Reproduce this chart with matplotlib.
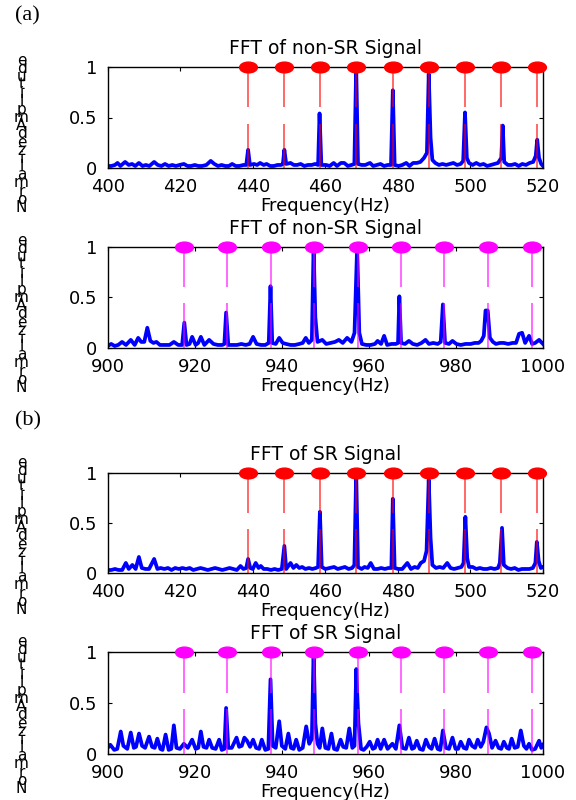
import numpy as np
import matplotlib
matplotlib.use("Agg")
import matplotlib.pyplot as plt
from matplotlib.path import Path
from matplotlib.transforms import Affine2D

# ---------------- data ----------------
titles = ["FFT of non-SR Signal", "FFT of non-SR Signal", "FFT of SR Signal", "FFT of SR Signal"]
panel_tags = ["(a)", "(b)"]
xlabel = "Frequency(Hz)"
ylabel = "Normalized Amplitude"
xticks_low = [400, 420, 440, 460, 480, 500, 520]
xticks_high = [900, 920, 940, 960, 980, 1000]
yticks = [0, 0.5, 1]
ytick_labels = ["0", "0.5", "1"]

harm_low = [438.6, 448.6, 458.5, 468.5, 478.6, 488.5, 498.5, 508.3, 518.3]
harm_high = [917.5, 927.3, 937.5, 947.3, 957.4, 967.4, 977.3, 987.4, 997.4]

# non-SR, 400-520 Hz
f_a1 = [400, 401, 402, 402.7, 403.5, 404.8, 405.8, 406.7, 407.6, 408.6, 409.6, 410.5, 411.5, 412.8,
        413.8, 414.8, 415.8, 416.8, 417.8, 418.8, 419.8, 421, 422, 423, 424, 425, 426, 427.2, 428.4,
        429.4, 430.4, 431.4, 432.4, 433.4, 434.3, 435.3, 436.3, 437.4, 438.2, 438.7, 439.2, 440.3,
        441.2, 442.0, 443.0, 443.8, 444.8, 445.8, 446.8, 447.8, 448.3, 448.7, 449.2, 450.4, 451.3,
        452.2, 453.2, 454.2, 455.2, 456.2, 457.2, 458.0, 458.4, 458.9, 460.2, 461.2, 462.3, 463.2,
        464.3, 465.2, 466.2, 467.2, 468.0, 468.5, 469.0, 470.0, 471.0, 472.3, 473.2, 474.2, 475.2,
        476.2, 477.2, 478.1, 478.6, 479.1, 480.2, 481.2, 482.3, 483.2, 484.2, 485.2, 486.2, 487.2,
        488.0, 488.5, 489.0, 489.5, 490.3, 491.3, 492.3, 493.3, 494.3, 495.3, 496.3, 497.3, 498.0,
        498.5, 499.0, 499.6, 500.6, 501.6, 502.6, 503.6, 504.6, 505.6, 506.6, 507.6, 508.5, 508.9,
        509.3, 510.3, 511.3, 512.3, 513.3, 514.3, 515.3, 516.3, 517.3, 518.0, 518.4, 518.9, 519.5, 520.0]
a_a1 = [0.02, 0.02, 0.03, 0.05, 0.02, 0.06, 0.03, 0.04, 0.02, 0.05, 0.02, 0.03, 0.02, 0.06,
        0.03, 0.02, 0.04, 0.02, 0.03, 0.02, 0.03, 0.04, 0.02, 0.02, 0.03, 0.02, 0.02, 0.03, 0.07,
        0.04, 0.02, 0.03, 0.02, 0.02, 0.04, 0.02, 0.02, 0.03, 0.03, 0.18, 0.03, 0.04,
        0.03, 0.05, 0.03, 0.04, 0.02, 0.02, 0.03, 0.03, 0.04, 0.18, 0.04, 0.05, 0.03,
        0.03, 0.04, 0.02, 0.03, 0.03, 0.04, 0.03, 0.54, 0.03, 0.03, 0.02, 0.05, 0.02,
        0.05, 0.05, 0.02, 0.03, 0.04, 1.00, 0.04, 0.03, 0.03, 0.05, 0.02, 0.03, 0.04,
        0.02, 0.03, 0.03, 0.77, 0.03, 0.02, 0.03, 0.05, 0.02, 0.05, 0.05, 0.06, 0.10,
        0.15, 0.93, 0.30, 0.08, 0.05, 0.03, 0.04, 0.03, 0.04, 0.05, 0.03, 0.04, 0.07,
        0.55, 0.10, 0.05, 0.03, 0.05, 0.03, 0.04, 0.02, 0.03, 0.04, 0.05, 0.10, 0.42,
        0.06, 0.03, 0.03, 0.04, 0.02, 0.04, 0.03, 0.05, 0.06, 0.12, 0.28, 0.10, 0.04, 0.02]

# non-SR, 900-1000 Hz
f_a2 = [900, 900.8, 901.6, 902.4, 903.3, 904.2, 905.3, 906.2, 907.0, 907.7, 908.4, 909.1, 909.8,
        910.5, 911.2, 912.0, 913.0, 914.2, 915.2, 916.2, 917.1, 917.6, 918.1, 918.8, 919.4, 920.2,
        920.8, 921.4, 922.2, 923.3, 924.3, 925.3, 926.3, 926.8, 927.2, 927.7, 928.7, 929.7, 930.7,
        931.7, 932.6, 933.4, 934.2, 935.2, 936.2, 937.0, 937.4, 937.8, 938.6, 939.4, 940.2, 941.0,
        942.0, 943.0, 944.0, 944.8, 945.5, 946.2, 946.9, 947.3, 947.7, 948.2, 949.3, 950.2, 951.2,
        952.2, 953.1, 954.0, 955.0, 956.0, 956.7, 957.3, 957.8, 958.4, 959.4, 960.4, 961.4, 962.0,
        962.8, 963.5, 964.2, 965.2, 966.2, 966.7, 967.0, 967.4, 968.3, 969.2, 970.1, 971.1, 972.1,
        973.0, 973.8, 974.8, 975.8, 976.5, 977.0, 977.5, 978.4, 979.2, 980.1, 981.1, 982.2, 983.4,
        984.3, 985.2, 985.8, 986.4, 986.8, 987.3, 987.8, 988.5, 989.2, 990.1, 991.0, 992.0, 993.0,
        993.8, 994.5, 995.2, 995.9, 996.8, 997.5, 998.2, 999.1, 1000.0]
a_a2 = [0.02, 0.04, 0.02, 0.03, 0.06, 0.03, 0.08, 0.03, 0.10, 0.06, 0.06, 0.20, 0.07,
        0.05, 0.06, 0.03, 0.03, 0.03, 0.06, 0.03, 0.03, 0.25, 0.03, 0.04, 0.11, 0.03,
        0.05, 0.11, 0.03, 0.08, 0.04, 0.03, 0.03, 0.04, 0.35, 0.03, 0.03, 0.03, 0.04,
        0.03, 0.04, 0.11, 0.04, 0.03, 0.03, 0.05, 0.61, 0.05, 0.04, 0.10, 0.05, 0.04,
        0.03, 0.03, 0.04, 0.05, 0.10, 0.05, 0.08, 1.00, 0.30, 0.06, 0.08, 0.04, 0.05,
        0.06, 0.08, 0.05, 0.10, 0.06, 0.15, 1.00, 0.15, 0.04, 0.03, 0.03, 0.04, 0.07,
        0.04, 0.12, 0.03, 0.04, 0.04, 0.05, 0.51, 0.05, 0.04, 0.07, 0.04, 0.03, 0.05,
        0.08, 0.04, 0.05, 0.04, 0.06, 0.43, 0.05, 0.04, 0.07, 0.04, 0.03, 0.04, 0.04,
        0.05, 0.05, 0.07, 0.12, 0.37, 0.37, 0.10, 0.06, 0.04, 0.05, 0.05, 0.04, 0.05,
        0.05, 0.14, 0.15, 0.05, 0.12, 0.04, 0.05, 0.08, 0.04]

# SR, 400-520 Hz
f_b1 = [400, 401, 402, 403, 404, 405, 405.8, 406.8, 407.7, 408.6, 409.4, 410.4, 411.4, 412.8,
        413.7, 414.6, 415.6, 416.6, 417.6, 418.6, 419.6, 420.6, 421.6, 422.6, 423.6, 424.6, 425.6,
        426.6, 427.6, 428.6, 429.6, 430.6, 431.6, 432.6, 433.6, 434.6, 435.6, 436.6, 437.4, 438.2,
        438.7, 439.3, 440.0, 440.8, 441.6, 442.2, 443.0, 444.0, 445.0, 446.0, 447.0, 448.0, 448.7,
        449.2, 450.4, 451.2, 452.0, 452.8, 453.6, 454.5, 455.5, 456.4, 457.4, 458.0, 458.5, 459.0,
        460.0, 461.2, 462.4, 463.4, 464.4, 465.4, 466.4, 467.4, 468.0, 468.5, 469.0, 470.0, 470.8,
        471.7, 472.5, 473.4, 474.4, 475.4, 476.4, 477.4, 478.2, 478.6, 479.1, 480.1, 481.2, 482.6,
        483.6, 484.6, 485.5, 486.3, 487.2, 487.9, 488.5, 489.0, 489.5, 490.5, 491.5, 492.5, 493.6,
        494.5, 495.5, 496.5, 497.5, 498.1, 498.6, 499.1, 499.6, 500.6, 501.6, 502.6, 503.6, 504.6,
        505.6, 506.6, 507.6, 508.1, 508.7, 509.2, 510.2, 511.2, 512.2, 513.2, 514.2, 515.2, 516.2,
        517.2, 517.9, 518.3, 518.8, 519.4, 520.0]
a_b1 = [0.03, 0.03, 0.04, 0.03, 0.03, 0.10, 0.04, 0.08, 0.04, 0.16, 0.05, 0.04, 0.04, 0.14,
        0.04, 0.05, 0.04, 0.05, 0.03, 0.05, 0.04, 0.05, 0.04, 0.05, 0.03, 0.04, 0.05,
        0.04, 0.03, 0.04, 0.05, 0.04, 0.03, 0.04, 0.05, 0.04, 0.03, 0.07, 0.04, 0.05,
        0.14, 0.05, 0.04, 0.10, 0.05, 0.07, 0.04, 0.04, 0.03, 0.04, 0.03, 0.04, 0.27,
        0.04, 0.10, 0.05, 0.08, 0.05, 0.06, 0.04, 0.05, 0.04, 0.05, 0.06, 0.61, 0.06,
        0.04, 0.05, 0.06, 0.04, 0.05, 0.06, 0.04, 0.05, 0.08, 1.00, 0.06, 0.04, 0.06,
        0.05, 0.10, 0.04, 0.04, 0.05, 0.04, 0.05, 0.05, 0.74, 0.05, 0.04, 0.04, 0.10,
        0.04, 0.06, 0.05, 0.10, 0.12, 0.22, 0.93, 0.35, 0.08, 0.05, 0.06, 0.05, 0.10,
        0.05, 0.04, 0.05, 0.06, 0.10, 0.56, 0.15, 0.06, 0.06, 0.04, 0.05, 0.04, 0.04,
        0.05, 0.04, 0.05, 0.10, 0.45, 0.08, 0.05, 0.04, 0.05, 0.03, 0.04, 0.04, 0.04,
        0.05, 0.10, 0.31, 0.12, 0.05, 0.06]

# SR, 900-1000 Hz
f_b2 = [900.0, 900.6, 901.5, 902.2, 903.0, 903.6, 904.5, 905.3, 906.0, 906.5, 907.2, 907.9, 908.6,
        909.5, 910.2, 910.8, 911.4, 912.1, 912.6, 913.3, 914.0, 914.6, 915.2, 915.8, 916.6, 917.5,
        918.4, 919.4, 920.2, 920.8, 921.4, 922.0, 922.7, 923.3, 924.0, 924.8, 925.6, 926.2, 926.8,
        927.2, 927.7, 928.5, 929.6, 930.2, 930.8, 931.4, 932.0, 932.7, 933.4, 934.1, 934.8, 935.4,
        936.2, 936.9, 937.4, 937.9, 938.6, 939.4, 940.0, 940.8, 941.5, 942.1, 942.7, 943.3, 944.0,
        944.8, 945.6, 946.3, 946.9, 947.3, 947.7, 948.2, 948.7, 949.3, 950.0, 950.7, 951.4, 952.0,
        952.7, 953.5, 954.1, 954.8, 955.5, 956.2, 956.7, 957.1, 957.6, 958.2, 958.8, 959.5, 960.2,
        960.9, 961.4, 962.0, 962.7, 963.5, 964.3, 965.4, 966.2, 967.0, 967.7, 968.5, 969.2, 969.9,
        970.4, 971.0, 971.7, 972.4, 973.1, 973.8, 974.4, 975.1, 975.8, 976.4, 977.0, 977.7, 978.4,
        979.2, 979.9, 980.5, 981.1, 981.8, 982.4, 983.0, 983.7, 984.4, 985.0, 985.7, 986.3, 987.0,
        987.6, 988.3, 989.1, 989.8, 990.4, 991.0, 991.7, 992.2, 992.8, 993.5, 994.2, 994.9, 995.6,
        996.2, 996.8, 997.5, 998.2, 999.1, 999.6, 1000.0]
a_b2 = [0.06, 0.09, 0.04, 0.05, 0.22, 0.08, 0.05, 0.21, 0.06, 0.07, 0.20, 0.08, 0.06,
        0.17, 0.07, 0.06, 0.15, 0.05, 0.04, 0.19, 0.04, 0.05, 0.28, 0.06, 0.05, 0.10,
        0.06, 0.14, 0.05, 0.06, 0.22, 0.07, 0.06, 0.14, 0.06, 0.05, 0.14, 0.04, 0.05,
        0.45, 0.06, 0.06, 0.16, 0.07, 0.08, 0.16, 0.13, 0.07, 0.14, 0.06, 0.05, 0.14,
        0.04, 0.05, 0.73, 0.08, 0.06, 0.32, 0.08, 0.05, 0.20, 0.06, 0.05, 0.14, 0.04,
        0.06, 0.27, 0.10, 0.15, 1.00, 0.30, 0.10, 0.06, 0.25, 0.06, 0.05, 0.20, 0.05,
        0.04, 0.14, 0.07, 0.06, 0.25, 0.06, 0.08, 0.83, 0.30, 0.05, 0.04, 0.07, 0.12,
        0.05, 0.06, 0.14, 0.05, 0.14, 0.05, 0.10, 0.05, 0.28, 0.06, 0.05, 0.16, 0.05,
        0.06, 0.13, 0.05, 0.04, 0.14, 0.07, 0.05, 0.15, 0.05, 0.04, 0.23, 0.06, 0.05,
        0.16, 0.05, 0.05, 0.12, 0.06, 0.05, 0.14, 0.08, 0.06, 0.14, 0.07, 0.12, 0.26,
        0.20, 0.06, 0.13, 0.06, 0.05, 0.12, 0.06, 0.05, 0.15, 0.06, 0.07, 0.23, 0.08,
        0.05, 0.10, 0.04, 0.05, 0.13, 0.06, 0.09]

# ---------------- figure ----------------
plt.rcParams["font.family"] = ["DejaVu Sans"]
fig = plt.figure(figsize=(5.76, 8.0), dpi=100)

W, H = 576.0, 800.0
left_px, right_px = 107.7, 543.0
rows_px = [(67.0, 168.0), (246.7, 348.0), (472.7, 573.0), (651.7, 754.0)]
ylab_top_px = [53, 233, 455, 634]

panels = [
    (f_a1, a_a1, harm_low, xticks_low, (400, 520), "#ff0000"),
    (f_a2, a_a2, harm_high, xticks_high, (900, 1000), "#ff00ff"),
    (f_b1, a_b1, harm_low, xticks_low, (400, 520), "#ff0000"),
    (f_b2, a_b2, harm_high, xticks_high, (900, 1000), "#ff00ff"),
]

ellipse = Path.unit_circle().transformed(Affine2D().scale(1.65, 1.0))
ylabel_stack = "\n".join(reversed(ylabel.replace(" ", "")))

for i, (fr, am, harm, xt, xl, hc) in enumerate(panels):
    top, bot = rows_px[i]
    ax = fig.add_axes([left_px / W, 1 - bot / H, (right_px - left_px) / W, (bot - top) / H])
    ax.plot(fr, am, color="#0000ff", lw=2.7, zorder=2, solid_joinstyle="round")
    ax.vlines(harm, 0, 0.44, color=hc, lw=1.1, alpha=0.75, zorder=3)
    ax.vlines(harm, 0.6, 1, color=hc, lw=1.1, alpha=0.75, zorder=3)
    ax.plot(harm, [1] * len(harm), linestyle="none", marker=ellipse, ms=12.8,
            color=hc, mec=hc, clip_on=False, zorder=5)
    ax.set_xlim(*xl)
    ax.set_ylim(0, 1)
    ax.set_xticks(xt)
    ax.set_yticks(yticks)
    ax.set_yticklabels(ytick_labels)
    ax.tick_params(direction="in", length=3, width=0.8, top=True, right=True,
                   labelsize=13, colors="black")
    ax.tick_params(axis="x", pad=7)
    ax.tick_params(axis="y", pad=7.5)
    for s in ax.spines.values():
        s.set_linewidth(1.0)
        s.set_color("black")
    ax.set_title(titles[i], fontsize=13.5, pad=9)
    ax.set_xlabel(xlabel, fontsize=13, labelpad=1)
    fig.text(21.5 / W, 1 - ylab_top_px[i] / H, ylabel_stack, ha="center", va="top",
             fontsize=11, linespacing=0.43)

fig.text(15 / W, 1 - 6 / H, panel_tags[0], family=["Liberation Serif"], fontsize=16,
         ha="left", va="top")
fig.text(15 / W, 1 - 411 / H, panel_tags[1], family=["Liberation Serif"], fontsize=16,
         ha="left", va="top")

fig.savefig("out.png", dpi=100)
